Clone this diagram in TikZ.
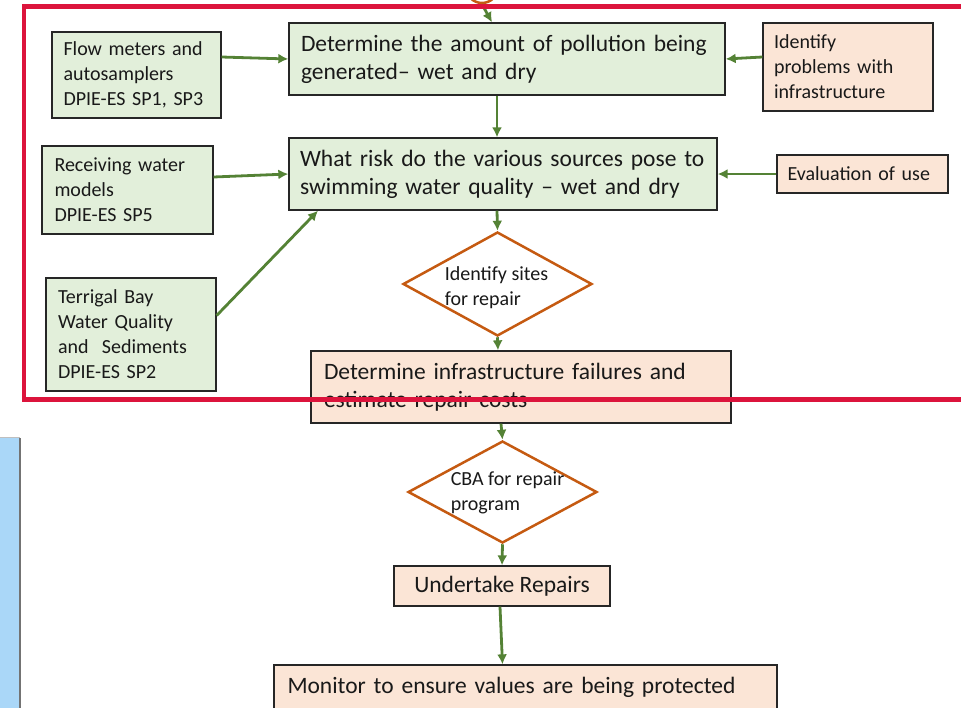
\documentclass[tikz,border=0pt]{standalone}
\usepackage{fontspec}
\setmainfont{Carlito}
\usetikzlibrary{shapes.geometric, arrows.meta}

\definecolor{boxgreen}{RGB}{226,239,218}
\definecolor{boxpeach}{RGB}{251,229,214}
\definecolor{arrowgreen}{RGB}{84,130,53}
\definecolor{diamondorange}{RGB}{197,90,17}
\definecolor{framered}{RGB}{220,20,60}
\definecolor{panelblue}{RGB}{170,215,248}

\begin{document}
\begin{tikzpicture}[x=1pt, y=-1pt,
    every node/.style={draw=black!85, line width=1.3pt, inner sep=0pt, text=black!90},
    bigtext/.style={font=\fontsize{23.5}{28}\selectfont, align=left},
    smalltext/.style={font=\fontsize{20}{25}\selectfont, align=left},
    greenbox/.style={fill=boxgreen},
    peachbox/.style={fill=boxpeach},
    decision/.style={diamond, draw=diamondorange, line width=2.5pt, fill=white},
    flow/.style={-{Latex[length=10pt, width=10pt]}, line width=2.8pt, draw=arrowgreen}]
    \useasboundingbox (0,0) rectangle (961,707);

    % panel on the left
    \fill[panelblue] (-2,438) rectangle (19,712);
    \draw[black!25, line width=1pt] (-2,437.5) -- (20,437.5);
    \draw[black!55, line width=2pt] (19.5,438) -- (19.5,712);

    \node[draw=diamondorange, line width=2.5pt, circle, minimum size=32pt] (start) at (482,-13) {};

    \node[greenbox, bigtext, minimum width=436pt, minimum height=72pt, text width=412pt] (det) at (507,59)
        {Determine the amount of pollution being\\generated-- wet and dry};
    \node[greenbox, smalltext, minimum width=169pt, minimum height=86pt, text width=146pt] (meters) at (136.5,75)
        {Flow meters and\\autosamplers\\DPIE-ES SP1, SP3};
    \node[peachbox, smalltext, minimum width=170pt, minimum height=88pt, text width=148pt] (problems) at (848,67)
        {Identify\\problems with\\infrastructure};

    \node[greenbox, bigtext, minimum width=428pt, minimum height=72pt, text width=406pt] (risk) at (503,174)
        {What risk do the various sources pose to\\swimming water quality -- wet and dry};
    \node[greenbox, smalltext, minimum width=171pt, minimum height=88pt, text width=146pt] (models) at (127.5,190)
        {Receiving water\\models\\DPIE-ES SP5};
    \node[peachbox, smalltext, minimum width=171pt, minimum height=38pt, text width=150pt] (use) at (862.5,174)
        {Evaluation of use};
    \node[greenbox, smalltext, minimum width=170pt, minimum height=113pt, text width=146pt] (terrigal) at (131,334.5)
        {Terrigal Bay\\Water Quality\\and\ \ Sediments\\DPIE-ES SP2};

    \node[decision, minimum width=189pt, minimum height=104pt,
        label={[draw=none, smalltext, xshift=-1pt, yshift=-4pt]center:Identify sites\\for repair}] (sites) at (497.5,284) {};

    \node[peachbox, bigtext, minimum width=420pt, minimum height=72pt, text width=394pt] (failures) at (521,387)
        {Determine infrastructure failures and\\estimate repair costs};

    \node[decision, minimum width=189pt, minimum height=102pt,
        label={[draw=none, smalltext, xshift=5pt, yshift=-1pt]center:CBA for repair\\program}] (cba) at (502.5,492) {};

    \node[peachbox, bigtext, minimum width=216pt, minimum height=40pt] (repairs) at (502,586) {Undertake Repairs};
    \node[peachbox, bigtext, minimum width=503pt, minimum height=44pt, text width=476pt] (monitor) at (525.5,687)
        {Monitor to ensure values are being protected};

    \draw[flow] (start.south) -- ([xshift=-15pt]det.north);
    \draw[flow] ([yshift=18pt]meters.east) -- (det.west);
    \draw[flow] ([yshift=10pt]problems.west) -- (det.east);
    \draw[flow] ([xshift=-10pt]det.south) -- ([xshift=-6pt]risk.north);
    \draw[flow] ([yshift=13pt]models.east) -- (risk.west);
    \draw[flow] (use.west) -- (risk.east);
    \draw[flow] ([yshift=19pt]terrigal.east) -- ([xshift=-185pt]risk.south);
    \draw[flow] ([xshift=-6pt]risk.south) -- (sites.north);
    \draw[flow] (sites.south) -- ([xshift=-23pt]failures.north);
    \draw[flow] ([xshift=-20pt]failures.south) -- (cba.north);
    \draw[flow] (cba.south) -- (repairs.north);
    \draw[flow] ([xshift=-2pt]repairs.south) -- ([xshift=-23pt]monitor.north);

    % red frame on top
    \draw[framered, line width=4.5pt] (24,6.5) rectangle (975,399.5);
\end{tikzpicture}
\end{document}
